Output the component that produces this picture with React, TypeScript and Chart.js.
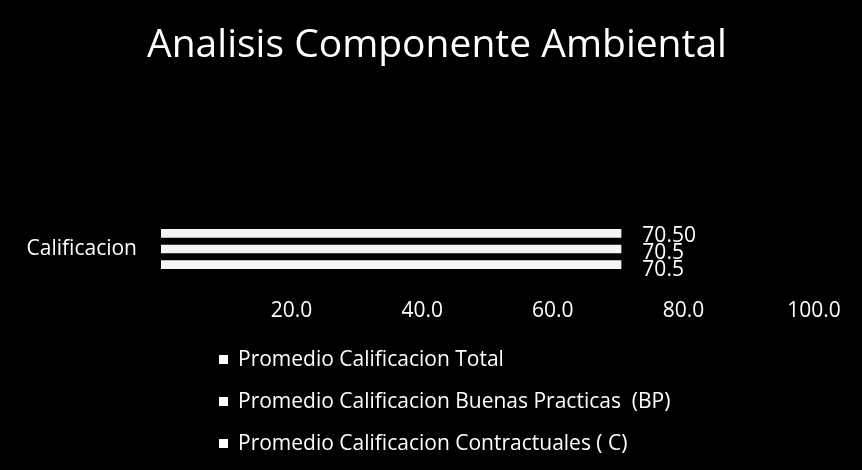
import React, { useEffect, useRef } from "react";
import { Chart, registerables } from "chart.js";

Chart.register(...registerables);

const chartTitle = "Analisis Componente Ambiental";
const categories = ["Calificacion"];
const seriesNames = [
  "Promedio Calificacion Total",
  "Promedio Calificacion Buenas Practicas  (BP)",
  "Promedio Calificacion Contractuales ( C)",
];
const seriesTotal = [70.5];
const seriesBP = [70.5];
const seriesC = [70.5];
const valueDecimals = [2, 1, 1];
const xMin = 0;
const xMax = 100;
const xStep = 20;

const FONT = "'Open Sans', 'Noto Sans', sans-serif";

export default function App() {
  const ref = useRef<HTMLCanvasElement | null>(null);

  useEffect(() => {
    document.body.style.margin = "0";
    document.body.style.background = "#000";
    const canvas = ref.current;
    if (!canvas) return;

    const titlePlugin = {
      id: "shiftedTitle",
      afterDraw(chart: any) {
        const ctx = chart.ctx;
        ctx.save();
        ctx.fillStyle = "#ffffff";
        ctx.font = `39px ${FONT}`;
        ctx.textAlign = "center";
        ctx.textBaseline = "middle";
        ctx.fillText(chartTitle, chart.width / 2 + 6, 46);
        ctx.restore();
      },
    };

    const valueLabels = {
      id: "valueLabels",
      afterDatasetsDraw(chart: any) {
        const ctx = chart.ctx;
        ctx.save();
        ctx.fillStyle = "#ffffff";
        ctx.font = `21px ${FONT}`;
        ctx.textAlign = "left";
        ctx.textBaseline = "middle";
        chart.data.datasets.forEach((ds: any, i: number) => {
          const meta = chart.getDatasetMeta(i);
          meta.data.forEach((bar: any, j: number) => {
            const v = ds.data[j] as number;
            ctx.fillText(v.toFixed(valueDecimals[i]), bar.x + 21, bar.y + 3 + i);
          });
        });
        ctx.restore();
      },
    };

    const listLegend = {
      id: "listLegend",
      afterDraw(chart: any) {
        const ctx = chart.ctx;
        const xs = chart.scales.x;
        ctx.save();
        ctx.fillStyle = "#ffffff";
        ctx.font = `21px ${FONT}`;
        ctx.textAlign = "left";
        ctx.textBaseline = "middle";
        const top = xs.bottom + 30;
        const left = chart.chartArea.left + 58;
        chart.data.datasets.forEach((ds: any, i: number) => {
          const y = top + i * 42;
          ctx.fillRect(left, y - 5, 9, 9);
          ctx.fillText(ds.label, left + 19, y);
        });
        ctx.restore();
      },
    };

    const chart = new Chart(canvas, {
      type: "bar",
      data: {
        labels: categories,
        datasets: [
          { label: seriesNames[0], data: seriesTotal },
          { label: seriesNames[1], data: seriesBP },
          { label: seriesNames[2], data: seriesC },
        ].map((d) => ({
          ...d,
          backgroundColor: "#f4f4f4",
          borderColor: "#ffffff",
          borderWidth: 0,
          barPercentage: 0.56,
          categoryPercentage: 0.57,
        })),
      },
      options: {
        indexAxis: "y",
        responsive: false,
        animation: false,
        layout: { padding: { left: 0, right: 48, top: 208, bottom: 140 } },
        plugins: {
          legend: { display: false },
          tooltip: { enabled: false },
          title: { display: false },
        },
        scales: {
          x: {
            min: xMin,
            max: xMax,
            grid: { display: false, drawTicks: false },
            border: { display: false },
            ticks: {
              stepSize: xStep,
              color: "#ffffff",
              font: { family: FONT, size: 21 },
              padding: 8,
              callback: (v: any) => (Number(v) === 0 ? "" : Number(v).toFixed(1)),
            },
            afterFit: (axis: any) => {
              axis.height = 40;
            },
          },
          y: {
            grid: { display: false, drawTicks: false },
            border: { display: false },
            ticks: {
              color: "#ffffff",
              font: { family: FONT, size: 21 },
              padding: 24,
            },
            afterFit: (axis: any) => {
              axis.width = 161;
            },
          },
        },
      },
      plugins: [titlePlugin, valueLabels, listLegend],
    });

    return () => chart.destroy();
  }, []);

  return (
    <div style={{ width: 862, height: 470, background: "#000" }}>
      <canvas ref={ref} width={862} height={470} />
    </div>
  );
}
